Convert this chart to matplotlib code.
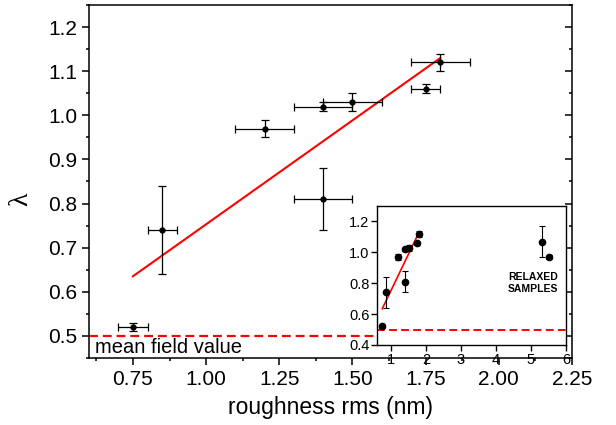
"""
Lambda exponent versus surface roughness, with inset including relaxed samples.
"""
import matplotlib
matplotlib.use('Agg')
import matplotlib.pyplot as plt
from matplotlib.ticker import MultipleLocator

plt.rcParams['font.family'] = ['Liberation Sans', 'DejaVu Sans']

# main data: roughness rms (nm) and lambda, with errors
rough = [0.75, 0.85, 1.20, 1.40, 1.50, 1.40, 1.75, 1.80]
rough_err = [0.05, 0.05, 0.10, 0.10, 0.10, 0.10, 0.05, 0.10]
lam = [0.52, 0.74, 0.97, 1.02, 1.03, 0.81, 1.06, 1.12]
lam_err = [0.01, 0.10, 0.02, 0.01, 0.02, 0.07, 0.01, 0.02]

# linear fit endpoints
fit_x = [0.75, 1.80]
fit_y = [0.635, 1.13]

# relaxed samples (inset only)
relaxed_x = [5.3, 5.5]
relaxed_y = [1.07, 0.97]
relaxed_err = [0.10, 0.01]

mean_field = 0.5

fig = plt.figure(figsize=(6.16, 4.25), dpi=100)
ax = fig.add_axes([0.1445, 0.158, 0.9286 - 0.1445, 0.988 - 0.158])

ax.axhline(mean_field, color='red', lw=1.6, dashes=(4, 2.2), zorder=1)
ax.plot(fit_x, fit_y, color='red', lw=1.5, zorder=2)
ax.errorbar(rough, lam, xerr=rough_err, yerr=lam_err, fmt='o', color='black',
            ms=3.5, elinewidth=0.9, capsize=3, capthick=0.9, zorder=3)
ax.text(0.012, 0.015, 'mean field value', transform=ax.transAxes,
        fontsize=14.5, va='baseline', ha='left')

ax.set_xlim(0.6, 2.25)
ax.set_ylim(0.45, 1.25)
ax.xaxis.set_minor_locator(MultipleLocator(0.125))
ax.yaxis.set_major_locator(MultipleLocator(0.1))
ax.yaxis.set_minor_locator(MultipleLocator(0.05))
ax.set_xticks([0.75, 1.0, 1.25, 1.5, 1.75, 2.0, 2.25])
ax.set_xticklabels(['0.75', '1.00', '1.25', '1.50', '1.75', '2.00', '2.25'])
ax.tick_params(axis='both', which='major', labelsize=15, length=5, width=1.1)
ax.tick_params(axis='both', which='minor', length=2.5, width=1.1)
ax.tick_params(axis='y', which='both', right=True)
for t in ax.yaxis.get_major_ticks() + ax.yaxis.get_minor_ticks():
    t.tick2line.set_marker(matplotlib.lines.TICKLEFT)
for sp in ax.spines.values():
    sp.set_linewidth(1.1)
ax.set_xlabel('roughness rms (nm)', fontsize=16.5, labelpad=5)
ax.set_ylabel('λ', fontsize=20, family=['Liberation Serif', 'DejaVu Serif'])
ax.yaxis.set_label_coords(-0.115, 0.45)

# inset
ins = fig.add_axes([377 / 616, 1 - 345 / 425, (566 - 377) / 616, (345 - 206) / 425])
ins.set_facecolor('white')
ins.axhline(mean_field, color='red', lw=1.4, dashes=(4, 2.2), zorder=1)
ins.plot(fit_x, fit_y, color='red', lw=1.2, zorder=2)
ins.errorbar(rough, lam, yerr=lam_err, fmt='o', color='black', ms=4.5,
             elinewidth=0.8, capsize=2, capthick=0.8, zorder=3)
ins.errorbar(relaxed_x, relaxed_y, yerr=relaxed_err, fmt='o', color='black',
             ms=4.5, elinewidth=0.8, capsize=2, capthick=0.8, zorder=3)
ins.text(5.05, 0.80, 'RELAXED\nSAMPLES', fontsize=7.5, fontweight='bold',
         ha='center', va='center', linespacing=1.3)
ins.set_xlim(0.6, 6)
ins.set_ylim(0.4, 1.3)
ins.set_xticks([1, 2, 3, 4, 5, 6])
ins.set_yticks([0.4, 0.6, 0.8, 1.0, 1.2])
ins.set_yticklabels(['0.4', '0.6', '0.8', '1.0', '1.2'])
ins.tick_params(axis='both', labelsize=10.5, length=4, width=1, pad=1.5)
for sp in ins.spines.values():
    sp.set_linewidth(1)

fig.savefig('out.png', dpi=100)
